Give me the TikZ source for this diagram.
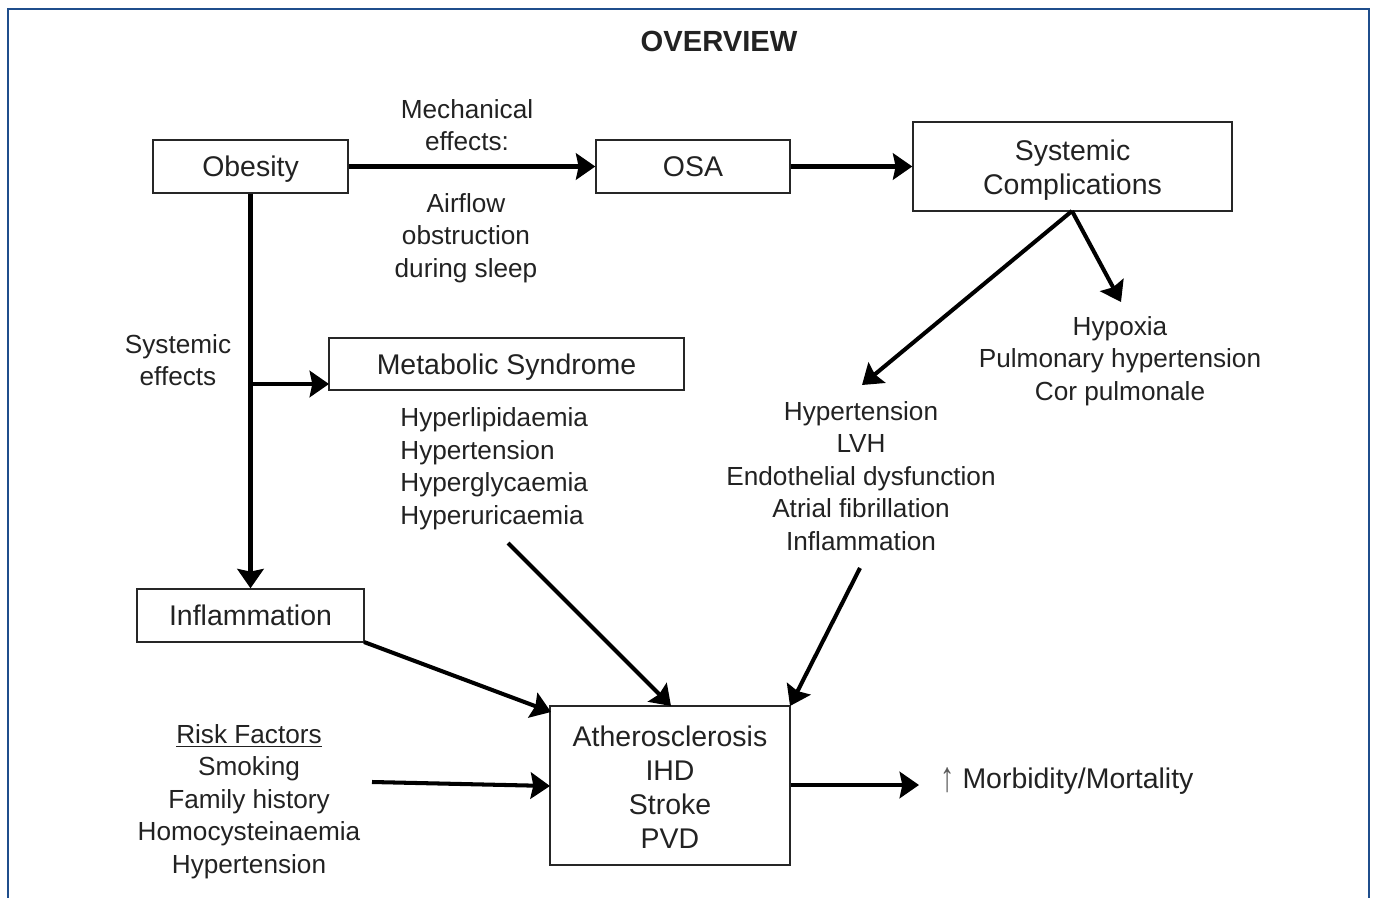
\documentclass[tikz,border=0pt]{standalone}
\usepackage{fontspec}
\setmainfont{Liberation Sans}
\usetikzlibrary{arrows.meta}
\definecolor{frameblue}{HTML}{1F4E8C}
\definecolor{txt}{HTML}{222222}
\begin{document}
\begin{tikzpicture}[x=0.02cm,y=-0.02cm,
  boxtxt/.style={font=\fontsize{16.2pt}{19.3pt}\selectfont, text=txt},
  listtxt/.style={font=\fontsize{14.9pt}{18.5pt}\selectfont, text=txt, align=center, inner sep=0pt},
  bx/.style={boxtxt, draw=black!85, line width=0.8pt, inner sep=0pt, align=center},
  oneline/.style={text height=11.7pt, text depth=0pt},
  inner/.style={boxtxt, align=center, inner sep=0pt},
  arr/.style={line width=2.3pt, -{Stealth[length=11pt,width=15pt,inset=1.5pt]}}
]
\useasboundingbox (0,0) rectangle (1375,898);
\clip (0,0) rectangle (1375,898);
\draw[frameblue, line width=1.2pt] (8,9) rectangle (1369,920);

\node[font=\bfseries\fontsize{16.6pt}{20pt}\selectfont, text=txt] (title) at (719,41) {OVERVIEW};

% boxes
\node[bx, oneline, minimum width=195*0.02cm, minimum height=53*0.02cm] (obesity) at (250.5,166.5) {Obesity};
\node[bx, oneline, minimum width=194*0.02cm, minimum height=53*0.02cm] (osa) at (693,166.5) {OSA};
\node[bx, minimum width=319*0.02cm, minimum height=89*0.02cm] (sys) at (1072.5,166.5) {};
\node[inner] (systxt) at (1072.5,170) {Systemic\\Complications};
\node[bx, oneline, minimum width=355*0.02cm, minimum height=52*0.02cm] (meta) at (506.5,364) {Metabolic Syndrome};
\node[bx, oneline, minimum width=227*0.02cm, minimum height=53*0.02cm] (infl) at (250.5,615.5) {Inflammation};
\node[bx, minimum width=240*0.02cm, minimum height=159*0.02cm] (ath) at (670,785.5) {};
\node[inner] (athtxt) at (670,787.5) {Atherosclerosis\\IHD\\Stroke\\PVD};

% labels
\node[listtxt] (mech) at (467,125) {Mechanical\\effects:};
\node[listtxt] (airflow) at (466,238) {Airflow\\obstruction\\during sleep};
\node[listtxt] (syseff) at (178,360) {Systemic\\effects};
\node[listtxt, align=left, anchor=west] (metalist) at (400,468.5) {Hyperlipidaemia\\Hypertension\\Hyperglycaemia\\Hyperuricaemia};
\node[listtxt] (hypoxia) at (1120,361) {Hypoxia\\Pulmonary hypertension\\Cor pulmonale};
\node[listtxt] (htnlist) at (861,476) {Hypertension\\LVH\\Endothelial dysfunction\\Atrial fibrillation\\Inflammation};
\node[listtxt] (risk) at (249,801.5) {\underline{Risk Factors}\\Smoking\\Family history\\Homocysteinaemia\\Hypertension};
\node[boxtxt, anchor=west, inner sep=0pt] (morb) at (940,781) {\raisebox{-0.15ex}{\scalebox{1}[1.5]{\textcolor{black!65}{↑}}} Morbidity/Mortality};

% coordinates
\coordinate (branch) at (250.5,384);
\coordinate (metain) at (329,384);
\coordinate (sysbot) at (1072,211);
\coordinate (htntip) at (862,385);
\coordinate (hyptip) at (1121,302);
\coordinate (inflout) at (364,642);
\coordinate (athtl) at (551,712);
\coordinate (metaout) at (508,543);
\coordinate (athtop) at (671,706);
\coordinate (htnout) at (860,568);
\coordinate (athtr) at (790,706);
\coordinate (riskout) at (372,782);
\coordinate (athleft) at (550,786);
\coordinate (morbtip) at (919,785);

% arrows
\draw[arr] (obesity.east) -- (osa.west);
\draw[arr] (osa.east) -- (sys.west);
\draw[arr] (obesity.south) -- (infl.north);
\draw[arr] (branch) -- (metain);
\draw[arr] (sysbot) -- (htntip);
\draw[arr] (sysbot) -- (hyptip);
\draw[arr] (inflout) -- (athtl);
\draw[arr] (metaout) -- (athtop);
\draw[arr] (htnout) -- (athtr);
\draw[arr] (riskout) -- (athleft);
\draw[arr] (ath.east |- morbtip) -- (morbtip);
\end{tikzpicture}
\end{document}
